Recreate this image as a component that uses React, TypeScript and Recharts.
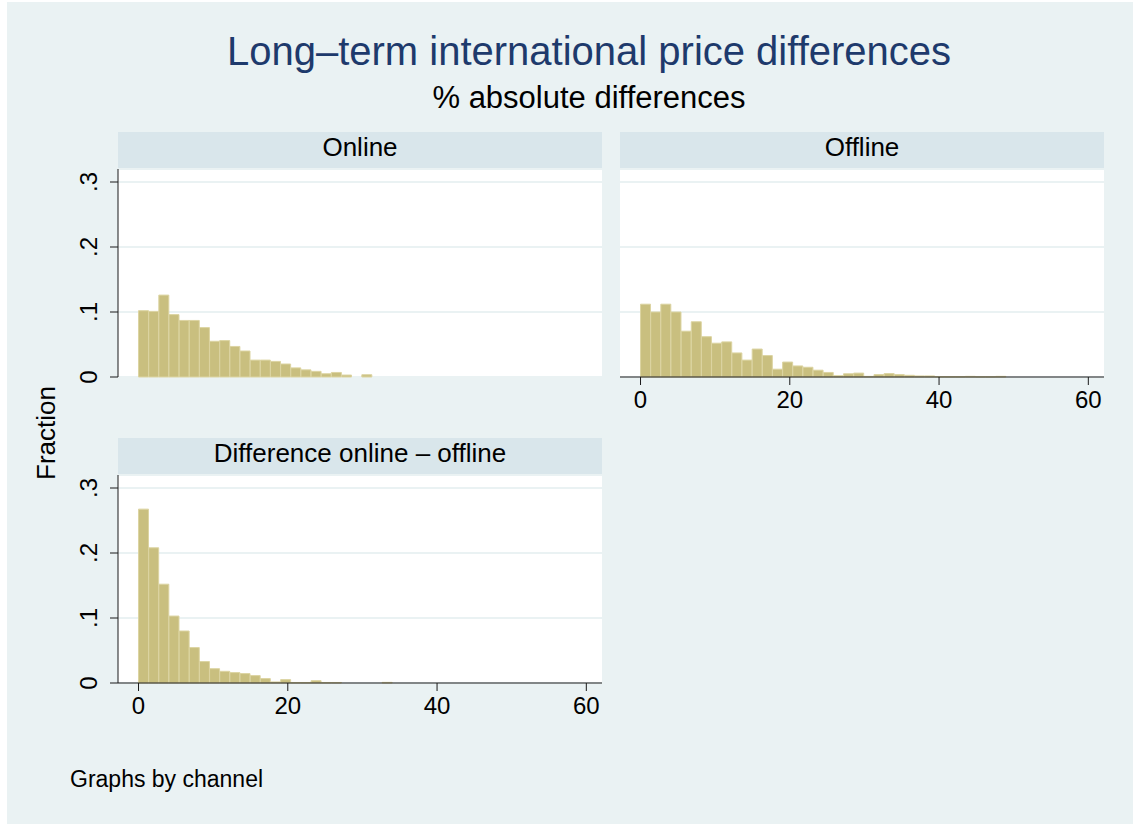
import React from "react";
import { BarChart, Bar, XAxis, YAxis, CartesianGrid } from "recharts";

// histogram bins start at 0, all with the same width
const binWidth = 1.36;

// fraction of products per bin
const onlineFractions = [
  0.102, 0.101, 0.126, 0.096, 0.087, 0.087, 0.076, 0.055, 0.056, 0.047, 0.04, 0.026,
  0.026, 0.024, 0.02, 0.014, 0.011, 0.0087, 0.005, 0.007, 0.003, 0, 0.0035,
];
const offlineFractions = [
  0.112, 0.1, 0.112, 0.1, 0.0705, 0.085, 0.062, 0.052, 0.054, 0.037, 0.026, 0.043,
  0.033, 0.012, 0.023, 0.017, 0.015, 0.0105, 0.007, 0.002, 0.005, 0.006, 0.001, 0.0037,
  0.0053, 0.0037, 0.0026, 0.0016, 0.0016, 0.0005, 0.0005, 0.0005, 0.001, 0.0003, 0.0003, 0.001,
];
const diffFractions = [
  0.2675, 0.208, 0.152, 0.103, 0.08, 0.0545, 0.033, 0.022, 0.018, 0.016, 0.0145, 0.0114,
  0.0068, 0.0016, 0.0052, 0.0008, 0.0008, 0.0036, 0.0008, 0.0008, 0, 0, 0, 0, 0.001,
];

const xTicks = [0, 20, 40, 60];
const yTicks = [0, 0.1, 0.2, 0.3];
const yTickLabels = ["0", ".1", ".2", ".3"];
const panelTitles = ["Online", "Offline", "Difference online \u2013 offline"];

const FONT = "'Liberation Sans', Arial, Helvetica, sans-serif";
const BG = "#EAF2F3";
const STRIP = "#D9E6EB";
const TITLE = "#1E3A6C";
const BAR_FILL = "#C9BF7F";
const BAR_EDGE = "#DCD4A2";
const AXIS = "#1a1a1a";

const PLOT_W = 484;
const PLOT_H = 208;

const toRows = (f: number[]) => f.map((v, i) => ({ mid: (i + 0.5) * binWidth, frac: v }));

const RotatedTick = (props: any) => {
  const { x, y, payload } = props;
  const i = yTicks.indexOf(payload.value);
  return (
    <text x={x} y={y} transform={`rotate(-90, ${x}, ${y})`} textAnchor="middle" fontSize={24} fontFamily={FONT} fill="#000">
      {yTickLabels[i]}
    </text>
  );
};

function Panel({ data, left, top, showY, showX }: { data: number[]; left: number; top: number; showY: boolean; showX: boolean }) {
  const yw = showY ? 58 : 0;
  const xh = showX ? 50 : 0;
  return (
    <div style={{ position: "absolute", left: left - yw, top: top - 10 }}>
      <BarChart
        width={yw + PLOT_W + 4}
        height={10 + PLOT_H + xh + (showX ? 0 : 10)}
        data={toRows(data)}
        margin={{ top: 10, right: 4, bottom: showX ? 0 : 10, left: 0 }}
        barCategoryGap={0}
        barGap={0}
      >
        <CartesianGrid vertical={false} fill="#ffffff" fillOpacity={1} stroke={BG} strokeWidth={2} />
        <XAxis
          dataKey="mid"
          type="number"
          domain={[-2.75, 62.1]}
          ticks={xTicks}
          hide={!showX}
          height={xh}
          tickSize={8}
          tickMargin={6}
          stroke={AXIS}
          tick={{ fontSize: 24, fontFamily: FONT, fill: "#000" }}
        />
        <YAxis
          type="number"
          domain={[0, 0.32]}
          ticks={yTicks}
          hide={!showY}
          width={yw}
          tickSize={8}
          tickMargin={13}
          stroke={AXIS}
          tick={<RotatedTick />}
        />
        <Bar dataKey="frac" fill={BAR_FILL} stroke={BAR_EDGE} strokeWidth={1} isAnimationActive={false} />
      </BarChart>
    </div>
  );
}

export default function App() {
  const strips = [
    { x: 118, y: 132 },
    { x: 620, y: 132 },
    { x: 118, y: 438 },
  ];
  return (
    <div style={{ position: "absolute", left: 0, top: 0, width: 1133, height: 824, fontFamily: FONT }}>
      <svg width={1133} height={824} style={{ position: "absolute", left: 0, top: 0 }}>
        <rect x={0} y={0} width={1133} height={824} fill="#ffffff" />
        <rect x={7} y={2} width={1126} height={822} fill={BG} />
        <text x={589} y={65} textAnchor="middle" fontSize={40} fontFamily={FONT} fill={TITLE}>
          Long–term international price differences
        </text>
        <text x={589} y={108} textAnchor="middle" fontSize={31} fontFamily={FONT} fill="#000">
          % absolute differences
        </text>
        {strips.map((s, i) => (
          <g key={i}>
            <rect x={s.x} y={s.y} width={PLOT_W} height={37} fill={STRIP} />
            <text x={s.x + PLOT_W / 2} y={s.y + 24} textAnchor="middle" fontSize={26} fontFamily={FONT} fill="#000">
              {panelTitles[i]}
            </text>
          </g>
        ))}
        <text x={55} y={433} transform="rotate(-90, 55, 433)" textAnchor="middle" fontSize={26} fontFamily={FONT} fill="#000">
          Fraction
        </text>
        <text x={70} y={787} fontSize={23} fontFamily={FONT} fill="#000">
          Graphs by channel
        </text>
      </svg>
      <Panel data={onlineFractions} left={118} top={169} showY={true} showX={false} />
      <Panel data={offlineFractions} left={620} top={169} showY={false} showX={true} />
      <Panel data={diffFractions} left={118} top={475} showY={true} showX={true} />
    </div>
  );
}
